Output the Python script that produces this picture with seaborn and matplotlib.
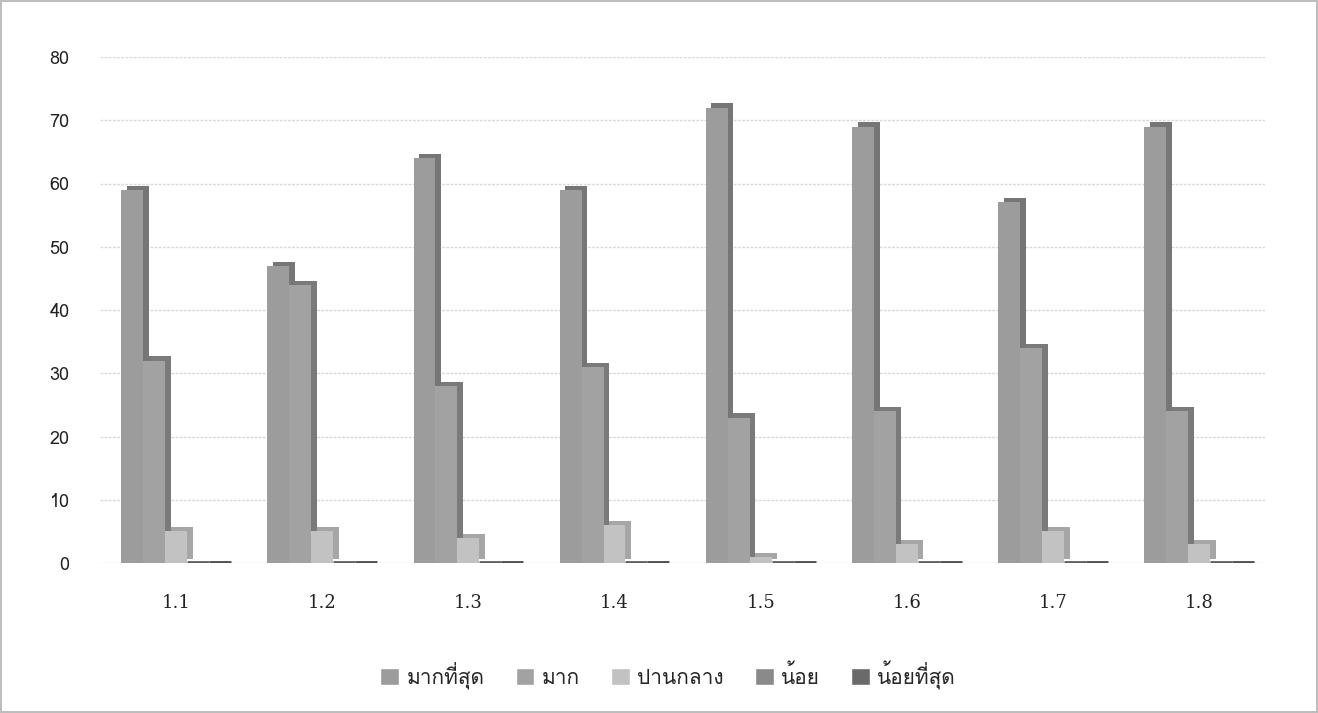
import matplotlib
matplotlib.use("Agg")
import matplotlib.pyplot as plt
import matplotlib.patheffects as pe
from matplotlib import font_manager
from matplotlib.ft2font import FT2Font
import seaborn as sns
import pandas as pd

categories = ["1.1", "1.2", "1.3", "1.4", "1.5", "1.6", "1.7", "1.8"]
series_names = ["มากที่สุด", "มาก", "ปานกลาง", "น้อย", "น้อยที่สุด"]
most = [59, 47, 64, 59, 72, 69, 57, 69]
much = [32, 44, 28, 31, 23, 24, 34, 24]
medium = [5, 5, 4, 6, 1, 3, 5, 3]
little = [0, 0, 0, 0, 0, 0, 0, 0]
least = [0, 0, 0, 0, 0, 0, 0, 0]
yticks = [0, 10, 20, 30, 40, 50, 60, 70, 80]

colors = ["#9c9c9c", "#a2a2a2", "#c2c2c2", "#8a8a8a", "#6a6a6a"]
side_colors = ["#767676", "#7a7a7a", "#a6a6a6", "#626262", "#505050"]

# find a font with Thai glyphs
thai_font = None
for f in font_manager.fontManager.ttflist:
    try:
        cm = FT2Font(f.fname).get_charmap()
        if ord("ม") in cm and ord("้") in cm:
            thai_font = f.name
            break
    except Exception:
        pass
families = ([thai_font] if thai_font else []) + ["DejaVu Sans"]

rows = []
for s, vals in zip(series_names, [most, much, medium, little, least]):
    for c, v in zip(categories, vals):
        rows.append({"cat": c, "series": s, "value": v})
df = pd.DataFrame(rows)

sns.set_theme(style="white")
plt.rcParams["font.family"] = families

fig = plt.figure(figsize=(13.18, 7.13), dpi=100)
fig.patch.set_edgecolor("#bdbdbd")
fig.patch.set_linewidth(1.5)
ax = fig.add_axes([100 / 1318, 150 / 713, 1165 / 1318, 506 / 713])

sns.barplot(data=df, x="cat", y="value", hue="series", order=categories,
            hue_order=series_names, palette=colors, width=0.75, saturation=1,
            ax=ax, legend=True, zorder=3)

for i, cont in enumerate(ax.containers):
    for bar in cont:
        bar.set_path_effects([
            pe.SimplePatchShadow(offset=(4, 3), shadow_rgbFace=side_colors[i], alpha=1.0),
            pe.Normal()])
        if bar.get_height() == 0:
            bar.set_edgecolor(side_colors[i])
            bar.set_linewidth(3.5)
        else:
            bar.set_edgecolor("none")

ax.set_ylim(0, 80)
ax.set_xlim(-0.52, 7.45)
ax.set_yticks(yticks)
ax.set_yticklabels([str(t) for t in yticks], fontsize=13, color="#222222")
ax.set_xticks(range(len(categories)))
ax.set_xticklabels(categories, fontsize=13, color="#222222", family=["DejaVu Serif"])
ax.tick_params(axis="x", pad=22, length=0)
ax.tick_params(axis="y", pad=22, length=0)
ax.set_xlabel("")
ax.set_ylabel("")
ax.yaxis.grid(True, color="#d8d8d8", linestyle=(0, (2, 1)), linewidth=1)
ax.set_axisbelow(True)
for sp in ax.spines.values():
    sp.set_visible(False)

handles, labels = ax.get_legend_handles_labels()
ax.legend_.remove()
fig.legend(handles, labels, loc="center", bbox_to_anchor=(668 / 1318, 1 - 675 / 713),
           ncol=5, frameon=False, fontsize=15, handlelength=0.9, handleheight=0.9,
           columnspacing=1.5, handletextpad=0.35)

fig.savefig("out.png", dpi=100, edgecolor=fig.get_edgecolor())
